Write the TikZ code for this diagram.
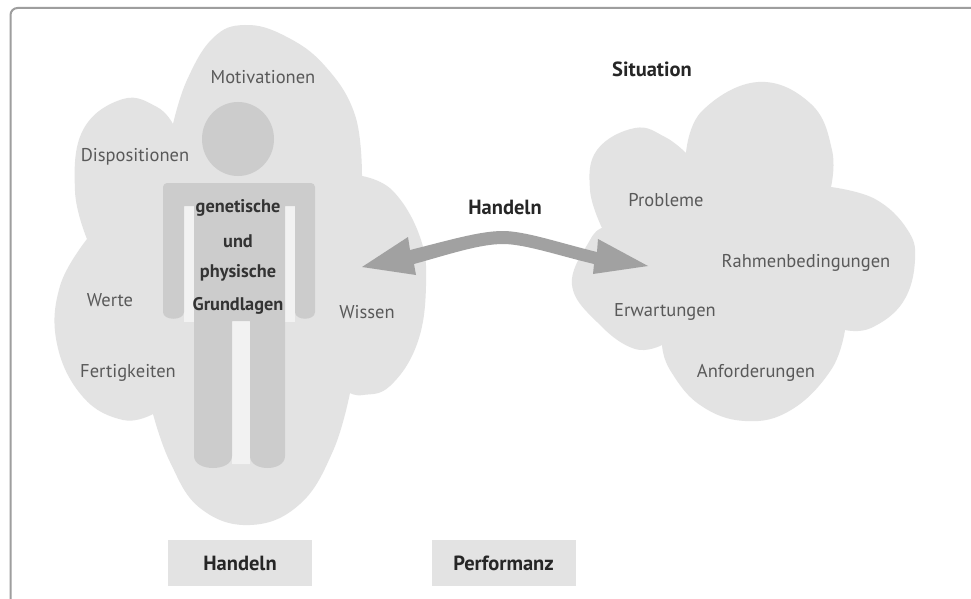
\documentclass[tikz,border=0pt]{standalone}
\usepackage{fontspec}
\setmainfont{PT Sans}
\tikzset{x=1pt,y=-1pt,
  lbl/.style={text=black!65,font=\fontsize{18.5}{20}\selectfont,inner sep=0pt},
  bld/.style={text=black!80,font=\fontsize{18.3}{20}\selectfont\bfseries,inner sep=0pt},
  bldbig/.style={text=black!85,font=\fontsize{20.5}{22}\selectfont\bfseries,inner sep=0pt},
  capbox/.style={fill=black!11,minimum width=144pt,minimum height=46pt,inner sep=0pt,text=black!85,font=\fontsize{20.5}{22}\selectfont\bfseries},
  cloudfill/.style={fill=black!11},
  figfill/.style={fill=black!20},
  gapfill/.style={fill=black!5},
}
\begin{document}
\begin{tikzpicture}
\useasboundingbox (0,0) rectangle (971,599);
\fill[white] (0,0) rectangle (971,599);
\draw[black!38,line width=2pt,rounded corners=7pt] (10.5,599) -- (10.5,8) -- (971,8);
% left cloud
\fill[cloudfill]
 plot[smooth,tension=0.7] coordinates {(173,124)(187,80)(213,38)(245,25)(285,36)(325,66)(355,115)(362,176)}
 -- plot[smooth,tension=0.7] coordinates {(362,176)(393,191)(420,237)(426,286)(417,344)(390,386)(363,395)(350,393)}
 -- plot[smooth,tension=0.7] coordinates {(350,393)(333,451)(300,504)(250,525)(200,508)(170,462)(153,414)}
 -- plot[smooth,tension=0.7] coordinates {(153,414)(123,420)(83,397)(57,344)(60,286)(87,239)}
 -- plot[smooth,tension=0.7] coordinates {(87,239)(75,191)(83,130)(123,99)(157,107)(173,124)} -- cycle;
% right cloud
\fill[cloudfill]
 plot[smooth,tension=0.7] coordinates {(686,153)(702,111)(758,82)(811,104)(832,150)(831,187)}
 -- plot[smooth,tension=0.7] coordinates {(831,187)(875,199)(907,229)(915,260)(903,302)(871,328)(845,330)}
 -- plot[smooth,tension=0.7] coordinates {(845,330)(831,370)(791,410)(745,421)(700,405)(670,370)(662,345)}
 -- plot[smooth,tension=0.7] coordinates {(662,345)(635,349)(600,325)(572,285)(590,240)(602,228)}
 -- plot[smooth,tension=0.7] coordinates {(602,228)(590,190)(597,150)(635,128)(665,137)(686,153)} -- cycle;
% figure
\fill[gapfill] (184,204) rectangle (194,322);
\fill[gapfill] (285,204) rectangle (295,322);
\fill[gapfill] (232,322) .. controls (232,316) and (250,316) .. (250,322) -- (250,464) -- (232,464) -- cycle;
\fill[figfill] (238,139) ellipse (36 and 37);
\fill[figfill] (167,183) -- (311,183) .. controls (313,183) and (315,185) .. (315,187)
 -- (315,312) .. controls (315,321) and (295,321) .. (295,312)
 -- (295,206) -- (285,206)
 -- (285,456) .. controls (285,472) and (250,472) .. (250,456)
 -- (250,321) -- (232,321)
 -- (232,456) .. controls (232,472) and (194,472) .. (194,456)
 -- (194,206) -- (184,206)
 -- (184,312) .. controls (184,321) and (163,321) .. (163,312)
 -- (163,187) .. controls (163,185) and (165,183) .. (167,183) -- cycle;
% arrow
\fill[black!37] (362,267) -- (408,237) -- (410,250)
 .. controls (450,240) and (480,231) .. (503,231)
 .. controls (525,231) and (560,243) .. (597,252)
 -- (598,239) -- (648,266) -- (593,274) -- (594,264)
 .. controls (560,256) and (525,244) .. (503,244)
 .. controls (480,244) and (450,254) .. (414,264)
 -- (416,275) -- cycle;
% labels
\node[lbl] (motiv) at (263,77) {Motivationen};
\node[lbl] (dispo) at (135,157) {Dispositionen};
\node[lbl] (werte) at (110,300) {Werte};
\node[lbl] (fertig) at (128,373) {Fertigkeiten};
\node[lbl] (wissen) at (367,312) {Wissen};
\node[bld] (gen) at (238,208) {genetische};
\node[bld] (und) at (238,241) {und};
\node[bld] (phys) at (238,273) {physische};
\node[bld] (grund) at (238,306) {Grundlagen};
\node[capbox] (handelnbox) at (240,563) {Handeln};
\node[capbox] (perf) at (503.5,563) {Performanz};
\node[bldbig] (handeln) at (505,207) {Handeln};
\node[bldbig] (sit) at (652,69) {Situation};
\node[lbl] (prob) at (666,200) {Probleme};
\node[lbl] (rahmen) at (806,263) {Rahmenbedingungen};
\node[lbl] (erw) at (665,312) {Erwartungen};
\node[lbl] (anf) at (756,373) {Anforderungen};
\end{tikzpicture}
\end{document}
